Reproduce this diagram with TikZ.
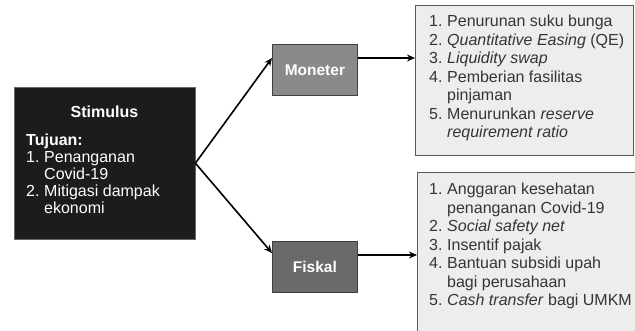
\documentclass[tikz,border=0pt]{standalone}
\usepackage{fontspec}
\setmainfont{Liberation Sans}
\usetikzlibrary{arrows.meta,calc}
\definecolor{stimfill}{HTML}{1C1C1C}
\definecolor{monfill}{HTML}{8A8A8A}
\definecolor{fisfill}{HTML}{6A6A6A}
\definecolor{listfill}{HTML}{EDEDED}
\definecolor{listline}{HTML}{5A5A5A}
\definecolor{listtext}{HTML}{353535}
\newcommand{\itm}[2]{\makebox[18pt][l]{#1}#2}
\newcommand{\cont}[1]{\hspace*{18pt}#1}
\begin{document}
\begin{tikzpicture}[x=1pt,y=-1pt,
  txt/.style={font=\fontsize{16}{18.5}\selectfont, inner sep=0pt, align=left, anchor=north west},
  policy/.style={draw=black!75, line width=0.8pt, text=white, font=\bfseries\fontsize{15.5}{18.5}\selectfont, minimum width=85pt, minimum height=51pt, inner sep=0pt},
  listbox/.style={draw=listline, fill=listfill, line width=0.9pt, inner sep=0pt, anchor=north west},
  conn/.style={line width=1.6pt, -{Stealth[length=8pt,width=7pt]}}]
\clip (0,0) rectangle (635,331);
\fill[white] (0,0) rectangle (635,331);
% stimulus
\node[draw=black!60, fill=stimfill, minimum width=181pt, minimum height=152pt, inner sep=0pt, anchor=north west] (stim) at (14,87) {};
\node[text=white, font=\bfseries\fontsize{16}{18.5}\selectfont, inner sep=0pt] (stimtitle) at (104.5,112) {Stimulus};
\node[txt, text=white, font=\fontsize{16}{17}\selectfont] (stimlist) at (26,133.5) {\textbf{Tujuan:}\\ \itm{1.}{Penanganan}\\ \cont{Covid-19}\\ \itm{2.}{Mitigasi dampak}\\ \cont{ekonomi}};
% policy boxes
\node[policy, fill=monfill, anchor=north west] (mon) at (272,44) {Moneter};
\node[policy, fill=fisfill, anchor=north west] (fis) at (272,241) {Fiskal};
% list boxes
\node[listbox, minimum width=218pt, minimum height=150pt] (monlist) at (415,5) {};
\node[listbox, minimum width=240pt, minimum height=180pt] (fislist) at (417,172) {};
\node[txt, text=listtext] (montext) at (429,15) {\itm{1.}{Penurunan suku bunga}\\ \itm{2.}{\textit{Quantitative Easing} (QE)}\\ \itm{3.}{\textit{Liquidity swap}}\\ \itm{4.}{Pemberian fasilitas}\\ \cont{pinjaman}\\ \itm{5.}{Menurunkan \textit{reserve}}\\ \cont{\textit{requirement ratio}}};
\node[txt, text=listtext] (fistext) at (429,183) {\itm{1.}{Anggaran kesehatan}\\ \cont{penanganan Covid-19}\\ \itm{2.}{\textit{Social safety net}}\\ \itm{3.}{Insentif pajak}\\ \itm{4.}{Bantuan subsidi upah}\\ \cont{bagi perusahaan}\\ \itm{5.}{\textit{Cash transfer} bagi UMKM}};
% connectors
\coordinate (monin) at ($(mon.north west)+(0,14)$);
\coordinate (fisin) at ($(fis.north west)+(0,12)$);
\draw[conn] (stim.east) -- (monin);
\draw[conn] (stim.east) -- (fisin);
\draw[conn] ($(mon.north east)+(0,14)$) -- (monlist.west |- monin);
\draw[conn] ($(fis.north east)+(0,14)$) -- ($(fislist.north west)+(0,83)$);
\end{tikzpicture}
\end{document}
